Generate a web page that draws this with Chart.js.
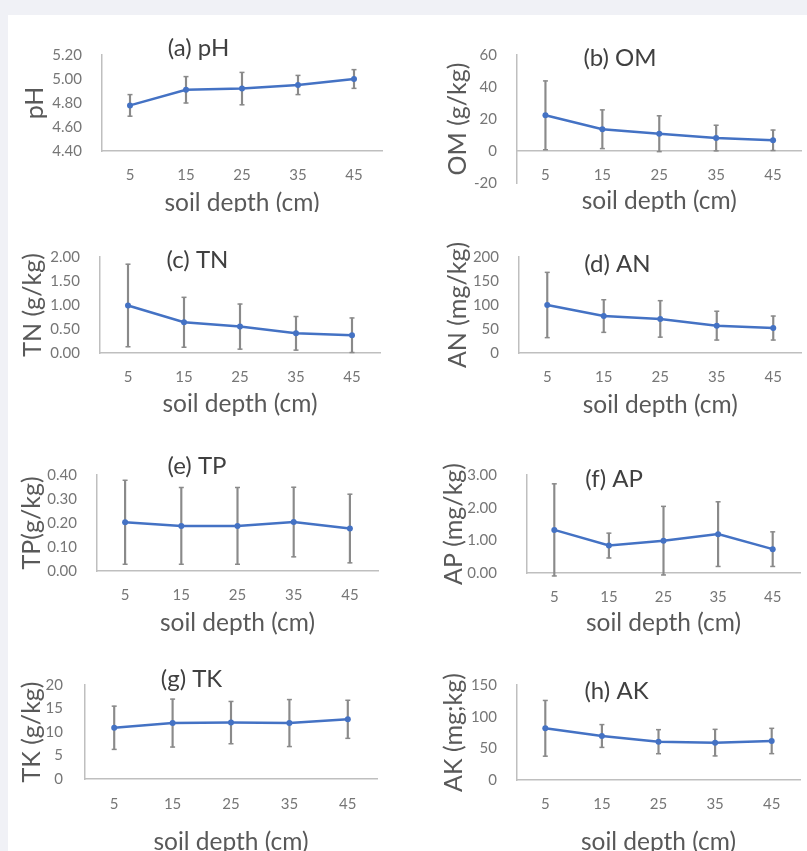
<!DOCTYPE html>
<html><head><meta charset="utf-8">
<script src="https://cdn.jsdelivr.net/npm/chart.js@4.4.1/dist/chart.umd.min.js"></script>
<style>
html,body{margin:0;padding:0;background:#f0f1f6;width:807px;height:851px;overflow:hidden;position:relative}
#sheet{position:absolute;left:8px;top:15px;width:799px;height:836px;background:#fff}
canvas{position:absolute}
</style></head><body><div id="sheet"></div>
<script>
// ---------- data ----------
const depths = ['5', '15', '25', '35', '45'];
const xAxisTitle = 'soil depth (cm)';

const phMean = [4.78, 4.91, 4.92, 4.95, 5.00];
const phErr  = [0.09, 0.11, 0.135, 0.08, 0.078];
const phTicks = [4.40, 4.60, 4.80, 5.00, 5.20];

const omMean = [22.3, 13.6, 10.8, 8.1, 6.7];
const omErr  = [21.5, 12.1, 11.2, 8.0, 6.4];
const omTicks = [-20, 0, 20, 40, 60];

const tnMean = [0.99, 0.64, 0.55, 0.41, 0.37];
const tnErr  = [0.86, 0.52, 0.47, 0.35, 0.36];
const tnTicks = [0.00, 0.50, 1.00, 1.50, 2.00];

const anMean = [100, 77, 71, 57, 52];
const anErr  = [68, 34, 38, 30, 25];
const anTicks = [0, 50, 100, 150, 200];

const tpMean = [0.203, 0.188, 0.188, 0.204, 0.177];
const tpErr  = [0.175, 0.16, 0.16, 0.145, 0.143];
const tpTicks = [0.00, 0.10, 0.20, 0.30, 0.40];

const apMean = [1.32, 0.84, 0.99, 1.19, 0.73];
const apErr  = [1.41, 0.38, 1.05, 0.99, 0.53];
const apTicks = [0.00, 1.00, 2.00, 3.00];

const tkMean = [10.9, 11.9, 12.0, 11.9, 12.7];
const tkErr  = [4.6, 5.1, 4.5, 5.0, 4.05];
const tkTicks = [0, 5, 10, 15, 20];

const akMean = [81.6, 69.5, 60.5, 59, 61.6];
const akErr  = [44, 18, 19, 21, 20];
const akTicks = [0, 50, 100, 150];

const panelTitles = ['(a) pH', '(b) OM', '(c) TN', '(d) AN', '(e) TP', '(f) AP', '(g) TK', '(h) AK'];
const yTitles = ['pH', 'OM (g/kg)', 'TN (g/kg)', 'AN (mg/kg)', 'TP(g/kg)', 'AP (mg/kg)', 'TK (g/kg)', 'AK (mg;kg)'];
const means = [phMean, omMean, tnMean, anMean, tpMean, apMean, tkMean, akMean];
const errs = [phErr, omErr, tnErr, anErr, tpErr, apErr, tkErr, akErr];
const tickSets = [phTicks, omTicks, tnTicks, anTicks, tpTicks, apTicks, tkTicks, akTicks];
const decimals = [2, 0, 2, 0, 2, 2, 0, 0];

// ---------- layout (page pixel positions) ----------
const layouts = [
  {box:[8,15,400,212],   area:[102,55,382,151], yLab:82,  xLab:175, yT:35,  xT:203.5, t:[198.5,48]},
  {box:[400,15,807,212], area:[517,55,805,186], yLab:497, xLab:177, yT:458, xT:203.5, t:[620,58], zero:true},
  {box:[8,225,400,435],  area:[100,257,380,353], yLab:80, xLab:377, yT:32.5, xT:404.5, t:[197.5,260.5]},
  {box:[400,225,807,435],area:[519,257,803,353], yLab:499, xLab:377, yT:458, xT:405.5, t:[617.5,264]},
  {box:[8,435,400,645],  area:[97,475,378,571], yLab:77,  xLab:595, yT:32,  xT:623.5, t:[197,466.5]},
  {box:[400,435,807,645],area:[527,475,800,573], yLab:497, xLab:597, yT:454, xT:623.5, t:[614,479]},
  {box:[8,645,400,851],  area:[85,685,377,779], yLab:63,  xLab:804, yT:32,  xT:842, t:[191.5,679]},
  {box:[400,645,807,851],area:[517,685,800,780], yLab:497, xLab:804, yT:454, xT:842, t:[616.5,691]}
];

const LINE = '#4472C4', ERR = '#8a8a8a', AXIS = '#bfbfbf';
const TICK = '#767676', ATITLE = '#595959', PTITLE = '#404040';
const FONT = 'Lato';
const TICK_SIZE = 15, YT_SIZE = 25, XT_SIZE = 24.5, PT_SIZE = 24;

means.forEach((mean, i) => {
  const L = layouts[i];
  const err = errs[i];
  const ticks = tickSets[i];
  const dec = decimals[i];
  const [bx0, by0, bx1, by1] = L.box;
  const [ax0, ay0, ax1, ay1] = L.area;
  const cv = document.createElement('canvas');
  cv.width = bx1 - bx0; cv.height = by1 - by0;
  cv.style.left = bx0 + 'px'; cv.style.top = by0 + 'px';
  document.body.appendChild(cv);

  const yMin = ticks[0], yMax = ticks[ticks.length - 1];
  const lhY = YT_SIZE * 1.2, lhX = XT_SIZE * 1.2, lhT = TICK_SIZE * 1.2;
  const yWidth = ax0 - bx0;
  let xPos = 'bottom', xH, padBottom = 0, xTitlePad, xTickPad;
  if (L.zero) {
    const zeroY = ay0 + (yMax - 0) / (yMax - yMin) * (ay1 - ay0);
    xPos = {y: 0};
    padBottom = by1 - ay1;
    xH = L.xT - zeroY + lhX / 2;
    xTitlePad = 0;
    xTickPad = L.xLab - zeroY - lhT / 2;
  } else {
    xH = by1 - ay1;
    xTitlePad = by1 - L.xT - lhX / 2;
    xTickPad = L.xLab - ay1 - lhT / 2;
  }

  const titlePlugin = {
    id: 'panelTitle',
    afterDraw(chart) {
      const ctx = chart.ctx;
      ctx.save();
      ctx.font = PT_SIZE + 'px ' + FONT;
      ctx.fillStyle = PTITLE;
      ctx.textAlign = 'center';
      ctx.textBaseline = 'middle';
      ctx.fillText(panelTitles[i], L.t[0] - bx0, L.t[1] - by0);
      ctx.restore();
    }
  };

  new Chart(cv, {
    type: 'line',
    data: {
      labels: depths,
      datasets: [
        {type: 'line', data: mean, borderColor: LINE, backgroundColor: LINE, borderWidth: 2.5,
         pointRadius: 3, pointBackgroundColor: LINE, pointBorderColor: LINE, pointBorderWidth: 0,
         tension: 0, fill: false},
        {type: 'line', data: mean.map((m, k) => m + err[k]), showLine: false, pointStyle: 'line',
         pointRadius: 2.5, borderColor: ERR, borderWidth: 1.5, clip: false},
        {type: 'line', data: mean.map((m, k) => m - err[k]), showLine: false, pointStyle: 'line',
         pointRadius: 2.5, borderColor: ERR, borderWidth: 1.5, clip: false},
        {type: 'bar', data: mean.map((m, k) => [m - err[k], m + err[k]]), backgroundColor: ERR,
         barThickness: 1.5, borderWidth: 0, clip: false}
      ]
    },
    options: {
      responsive: false, animation: false, devicePixelRatio: 1, events: [],
      layout: {padding: {left: 0, top: ay0 - by0, right: bx1 - ax1, bottom: padBottom}},
      plugins: {legend: {display: false}, tooltip: {enabled: false}},
      scales: {
        x: {
          type: 'category', position: xPos, offset: true,
          grid: {display: false, drawTicks: false},
          border: {display: true, color: AXIS, width: 1.5},
          ticks: {color: TICK, font: {family: FONT, size: TICK_SIZE}, padding: xTickPad, maxRotation: 0, autoSkip: false},
          title: {display: true, text: xAxisTitle, color: ATITLE, font: {family: FONT, size: XT_SIZE},
                  padding: {top: 0, bottom: xTitlePad}},
          afterFit: (s) => { s.height = xH; }
        },
        y: {
          type: 'linear', min: yMin, max: yMax,
          grid: {display: false, drawTicks: false},
          border: {display: true, color: AXIS, width: 1.5},
          ticks: {color: TICK, font: {family: FONT, size: TICK_SIZE}, padding: ax0 - L.yLab,
                  callback: (v) => Number(v).toFixed(dec)},
          afterBuildTicks: (s) => { s.ticks = ticks.map(v => ({value: v})); },
          title: {display: true, text: yTitles[i], color: ATITLE, font: {family: FONT, size: YT_SIZE},
                  padding: {top: L.yT - bx0 - lhY / 2, bottom: 0}},
          afterFit: (s) => { s.width = yWidth; }
        }
      }
    },
    plugins: [titlePlugin]
  });
});
</script>
</body></html>
